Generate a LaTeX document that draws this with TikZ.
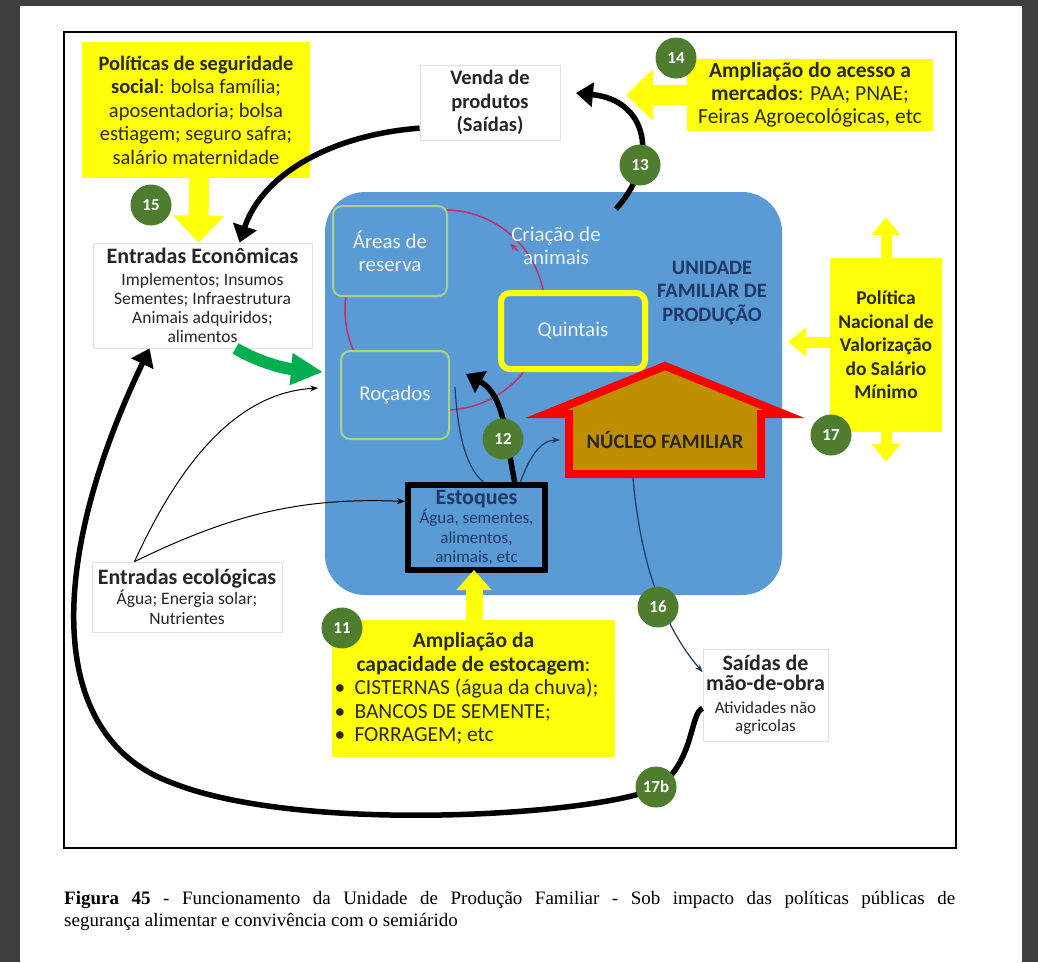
\documentclass[tikz,border=0pt]{standalone}
\usepackage{fontspec}
\setmainfont{Carlito}
\newfontfamily\capfont{Liberation Serif}
\usetikzlibrary{arrows.meta,calc}
\definecolor{pagebg}{HTML}{3F3F3F}
\definecolor{ylw}{HTML}{FFFF0A}
\definecolor{ytext}{HTML}{2A2A14}
\definecolor{dgray}{HTML}{262626}
\definecolor{unitblue}{HTML}{5B9BD5}
\definecolor{innergreen}{HTML}{A9D18E}
\definecolor{magentaL}{HTML}{C0306A}
\definecolor{navy}{HTML}{1F3864}
\definecolor{numgreen}{HTML}{4E7D30}
\definecolor{arrowgreen}{HTML}{00B050}
\definecolor{housefill}{HTML}{BF8F00}
\definecolor{housered}{HTML}{FF0000}
\definecolor{paletxt}{HTML}{F2F2F2}
\newcommand\fsTitle{\fontsize{22}{23}\bfseries\selectfont}
\begin{document}
\begin{tikzpicture}[x=1pt,y=-1pt,
  ybox/.style={fill=ylw, draw=none, align=center, text=ytext, inner sep=0pt},
  wbox/.style={fill=white, draw=black!12, line width=0.8pt, align=center, text=dgray, inner sep=0pt},
  innerbox/.style={fill=unitblue, draw=innergreen, line width=2pt, rounded corners=9pt, align=center, text=paletxt, inner sep=0pt, font=\fontsize{21}{23}\selectfont},
  numc/.style={circle, fill=numgreen, text=white, font=\fontsize{17}{17}\bfseries\selectfont, minimum size=41pt, inner sep=0pt},
  bigarrow/.style={line width=5.5pt, -{Triangle[length=17pt,width=24pt]}},
  yarrow/.style={draw=ylw, line width=20pt, -{Triangle[length=27pt,width=50pt]}},
  yarrowS/.style={draw=ylw, line width=11pt, -{Triangle[length=18pt,width=28pt]}},
  thinarrow/.style={line width=1pt, -{Stealth[length=8pt,width=6pt]}},
  navyline/.style={draw=navy, line width=1.2pt},
  navyarrow/.style={draw=navy, line width=1.2pt, -{Stealth[length=8pt,width=6pt]}},
  greenarrow/.style={draw=arrowgreen, line width=12pt, -{Triangle[length=32pt,width=30pt]}}
]
\useasboundingbox (0,0) rectangle (1038,962);
\fill[pagebg] (0,0) rectangle (1038,962);
\fill[white] (20,6) rectangle (1022,962);
\draw[line width=2pt] (64,32) rectangle (956,848);

% unit
\fill[unitblue, rounded corners=40pt] (325,192) rectangle (782,595);
\draw[magentaL, line width=1.5pt] (445,310) circle[radius=100pt];
\draw[magentaL, line width=1.5pt, -{Stealth[length=7pt,width=6pt]}] (518,251) -- (510,244);

\node[innerbox, minimum width=114pt, minimum height=90pt] (areas) at (390,251) {Áreas de\\reserva};
\node[innerbox, minimum width=108pt, minimum height=88pt] (rocados) at (395,395) {Roçados};
\node[innerbox, draw=ylw, line width=6pt, minimum width=144pt, minimum height=76pt] (quintais) at (573,331) {Quintais};
\node[align=center, text=paletxt, font=\fontsize{21}{23}\selectfont] (criacao) at (556,246) {Criação de\\animais};
\node[align=center, text=navy, font=\fontsize{20.5}{23.5}\bfseries\selectfont] (unidade) at (712,293) {UNIDADE\\FAMILIAR DE\\PRODUÇÃO};

% house
\draw[housered, line width=8pt, fill=housefill, line join=miter] (546,414) -- (665,366) -- (784,414) -- (761,414) -- (761,474) -- (569,474) -- (569,414) -- cycle;
\node[text=dgray, font=\fontsize{20.5}{22}\bfseries\selectfont] (nucleo) at (665,440) {NÚCLEO FAMILIAR};
\coordinate (houseL) at (560,440);
\coordinate (houseB) at (633,478);

% estoques
\node[draw=black, line width=6pt, fill=unitblue, minimum width=137pt, minimum height=85pt, align=center, text=navy, inner sep=0pt, font=\fontsize{17}{19.5}\selectfont] (est) at (476.5,527.5) {{\fontsize{22}{22}\bfseries\selectfont Estoques}\\Água, sementes,\\alimentos,\\animais, etc};

% thin lines inside unit
\coordinate (rocR) at (455,387);
\draw[navyline] (rocR) .. controls (458,440) and (468,470) .. (est.81);
\draw[navyarrow] (est.46) .. controls (528,460) and (540,440) .. (houseL);

% 12 arc
\coordinate (c12e) at (466,374);
\draw[bigarrow] (est.50) .. controls (506,440) and (505,395) .. (c12e);

% boxes outside
\node[ybox, minimum width=228pt, minimum height=136pt, font=\fontsize{20.5}{23.5}\selectfont] (pol) at (196,110) {\textbf{Políticas de seguridade}\\\textbf{social}: bolsa família;\\aposentadoria; bolsa\\estiagem; seguro safra;\\salário maternidade};
\node[wbox, minimum width=219pt, minimum height=105pt, font=\fontsize{17.5}{19}\selectfont] (entE) at (202.5,295.5) {{\fsTitle Entradas Econômicas}\\[3pt]Implementos; Insumos\\Sementes; Infraestrutura\\Animais adquiridos;\\alimentos};
\node[wbox, minimum width=140pt, minimum height=75pt, font=\fontsize{20.5}{23.5}\bfseries\selectfont] (venda) at (490,102.5) {Venda de\\produtos\\(Saídas)};
\node[ybox, minimum width=246pt, minimum height=72pt, font=\fontsize{21.5}{23}\selectfont] (merc) at (810,95) {\textbf{Ampliação do acesso a}\\\textbf{mercados}: PAA; PNAE;\\Feiras Agroecológicas, etc};
\node[ybox, minimum width=112pt, minimum height=174pt, font=\fontsize{19.5}{23.5}\bfseries\selectfont] (salario) at (886,345) {Política\\Nacional de\\Valorização\\do Salário\\Mínimo};
\node[wbox, minimum width=190pt, minimum height=70pt, font=\fontsize{17.5}{20}\selectfont] (entEco) at (187,597) {{\fsTitle Entradas ecológicas}\\Água; Energia solar;\\Nutrientes};
\node[ybox, minimum width=283pt, minimum height=137pt] (amp) at (473.5,688.5) {\parbox{278pt}{\fontsize{21.5}{23.5}\selectfont\centering\textbf{Ampliação da}\\\textbf{capacidade de estocagem}:\par\raggedright
\makebox[20pt][l]{\textbullet}CISTERNAS (água da chuva);\\
\makebox[20pt][l]{\textbullet}BANCOS DE SEMENTE;\\
\makebox[20pt][l]{\textbullet}FORRAGEM; etc}};
\node[wbox, minimum width=125pt, minimum height=92pt, font=\fontsize{17}{18}\selectfont] (saidas) at (765.5,695) {{\fsTitle Saídas de}\\[2pt]{\fsTitle mão-de-obra}\\[5pt]Atividades não\\agricolas};

% yellow arrows
\coordinate (mtip) at (626,95);
\coordinate (supT) at (886,217);
\coordinate (supB) at (886,462);
\coordinate (supL) at (788,342);
\draw[yarrow] ($(pol.south)+(3,-2)$) -- ($(entE.north)+(-4,0)$);
\draw[yarrow] ($(merc.west)+(2,0)$) -- (mtip);
\draw[yarrowS] ($(salario.north)+(0,2)$) -- (supT);
\draw[yarrowS] ($(salario.south)+(0,-2)$) -- (supB);
\draw[yarrowS] ($(salario.west)+(2,-3)$) -- (supL);
\draw[draw=ylw, line width=17pt, -{Triangle[length=20pt,width=34pt]}] ($(amp.north)+(0.5,2)$) -- ($(est.south)+(-2.5,-3)$);

% black arrows
\draw[bigarrow] (venda.200) .. controls (330,135) and (262,175) .. (entE.55);
\coordinate (c13s) at (616,209);
\coordinate (c13e) at (576,93);
\draw[bigarrow] (c13s) .. controls (660,160) and (648,100) .. (c13e);
\draw[bigarrow] (saidas.192) .. controls (690,712) and (694,765) .. (656,788)
  .. controls (600,815) and (300,835) .. (170,782)
  .. controls (45,735) and (48,560) .. (entE.225);

% green arrow
\coordinate (greentip) at (323,372);
\draw[greenarrow] (entE.302) .. controls (255,360) and (280,368) .. (greentip);

% ecological arrows
\coordinate (rocL) at (318,388);
\draw[thinarrow] (entEco.146) .. controls (190,440) and (250,392) .. (rocL);
\draw[thinarrow] (entEco.146) .. controls (230,515) and (300,497) .. (est.160);

% 16
\draw[navyarrow] (houseB) .. controls (640,560) and (662,625) .. (saidas.160);

% numbers
\node[numc] (n15) at (151,205) {15};
\node[numc] (n14) at (676,58) {14};
\node[numc] (n13) at (640,165) {13};
\node[numc] (n12) at (503,439) {12};
\node[numc] (n11) at (342,628) {11};
\node[numc] (n16) at (658,607) {16};
\node[numc] (n17b) at (656,787) {17b};
\node[numc] (n17) at (831,435) {17};

% caption
\node[anchor=base west, inner sep=0pt, font=\capfont\fontsize{19}{22}\selectfont] (cap1) at (64,904) {\makebox[891pt][s]{\textbf{Figura 45} - Funcionamento da Unidade de Produção Familiar - Sob impacto das políticas públicas de}};
\node[anchor=base west, inner sep=0pt, font=\capfont\fontsize{19}{22}\selectfont] (cap2) at (64,926) {segurança alimentar e convivência com o semiárido};
\end{tikzpicture}
\end{document}
